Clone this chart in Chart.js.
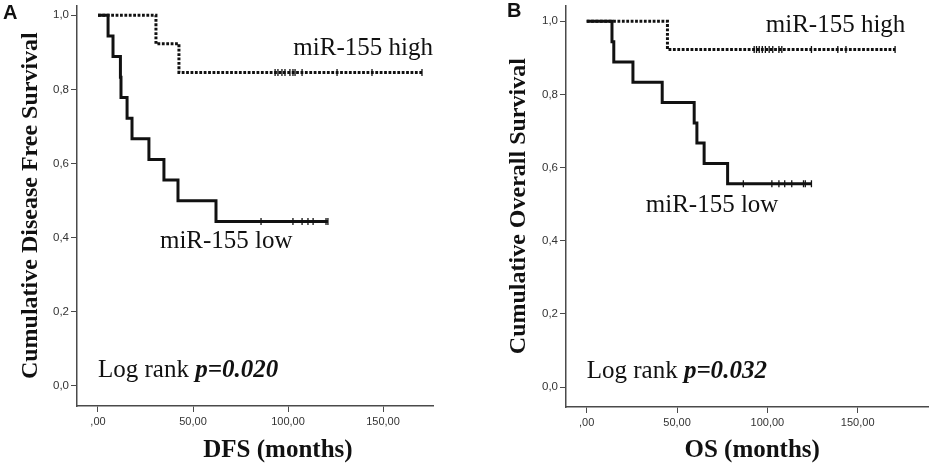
<!DOCTYPE html>
<html>
<head>
<meta charset="utf-8">
<script src="https://cdn.jsdelivr.net/npm/chart.js@4.4.1/dist/chart.umd.min.js"></script>
<style>
    html, body { margin: 0; padding: 0; background: #fff; }
    #wrap { position: relative; width: 934px; height: 466px; overflow: hidden; }
    .panel { position: absolute; top: 0; width: 467px; height: 466px; }
</style>
</head>
<body>
<div id="wrap">
    <div class="panel" style="left:0"><canvas id="dfsChart"></canvas></div>
    <div class="panel" style="left:467px"><canvas id="osChart"></canvas></div>
</div>
<script>
// axis ticks (SPSS style, comma decimals)
const xTickValues = [0, 50, 100, 150];
const xTickLabels = [',00', '50,00', '100,00', '150,00'];
const yTickValues = [0, 0.2, 0.4, 0.6, 0.8, 1.0];
const yTickLabels = ['0,0', '0,2', '0,4', '0,6', '0,8', '1,0'];

// panel A - disease free survival (months / cumulative survival)
const dfsHighTimes = [0, 30.5, 42.6];
const dfsHighSurv = [1, 0.923, 0.846];
const dfsHighCensored = [93.2, 94.7, 96.8, 98.4, 101, 102.6, 103.7, 107.4, 125.8, 144.2, 170.5];
const dfsLowTimes = [0, 5.3, 7.9, 11.8, 12.1, 15.3, 17.9, 26.8, 34.7, 42.1, 62.1];
const dfsLowSurv = [1, 0.944, 0.889, 0.833, 0.778, 0.722, 0.667, 0.611, 0.556, 0.5, 0.444];
const dfsLowCensored = [85.8, 102.6, 107.4, 110.5, 113.2, 120, 121];

// panel B - overall survival
const osHighTimes = [0, 44.7];
const osHighSurv = [1, 0.923];
const osHighCensored = [92.7, 94, 95.5, 97.2, 98.9, 101, 103, 106.4, 108, 124.4, 139, 143.5, 170.7];
const osLowTimes = [0, 14, 15, 25.6, 41.8, 59.5, 61, 65, 78];
const osLowSurv = [1, 0.944, 0.889, 0.833, 0.778, 0.722, 0.667, 0.611, 0.556];
const osLowCensored = [86.7, 102.5, 106.4, 109.6, 113.5, 120, 121, 124.4];

const INK = '#111';
const AXIS = '#4a4a4a';
const SERIF = '"Liberation Serif", "Times New Roman", serif';
const SANS = '"Liberation Sans", Arial, sans-serif';

function survAt(times, surv, t) {
    let s = surv[0];
    for (let i = 0; i < times.length; i++) {
        if (times[i] <= t) s = surv[i];
    }
    return s;
}

function curvePoints(times, surv, censored) {
    const pts = times.map((t, i) => ({ x: t, y: surv[i] }));
    const end = Math.max(...censored);
    pts.push({ x: end, y: surv[surv.length - 1] });
    return pts;
}

function censorPoints(times, surv, censored) {
    return censored.map(t => ({ x: t, y: survAt(times, surv, t) }));
}

function kmDatasets(high, low) {
    return [
        {
            data: curvePoints(low.times, low.surv, low.censored),
            stepped: true,
            borderColor: INK,
            borderWidth: 3,
            pointRadius: 0,
            order: 1
        },
        {
            data: curvePoints(high.times, high.surv, high.censored),
            stepped: true,
            borderColor: INK,
            borderWidth: 3,
            borderDash: [2.8, 1.6],
            borderCapStyle: 'butt',
            pointRadius: 0,
            order: 2
        },
        {
            data: censorPoints(low.times, low.surv, low.censored),
            showLine: false,
            pointStyle: 'line',
            rotation: 90,
            pointRadius: 3.5,
            pointBorderWidth: 1.3,
            pointBorderColor: INK,
            order: 0
        },
        {
            data: censorPoints(high.times, high.surv, high.censored),
            showLine: false,
            pointStyle: 'line',
            rotation: 90,
            pointRadius: 3.5,
            pointBorderWidth: 1.3,
            pointBorderColor: INK,
            order: 0
        }
    ];
}

// free text drawn at data coordinates (or pixels when px/py given)
const kmTextPlugin = {
    id: 'kmText',
    afterDraw(chart, args, opts) {
        const ctx = chart.ctx;
        const xs = chart.scales.x;
        const ys = chart.scales.y;
        ctx.save();
        ctx.fillStyle = INK;
        ctx.textBaseline = 'alphabetic';
        opts.items.forEach(item => {
            const x = item.px !== undefined ? item.px : xs.getPixelForValue(item.x);
            const y = item.py !== undefined ? item.py : ys.getPixelForValue(item.y);
            let total = 0;
            const widths = item.parts.map(p => {
                ctx.font = p.font;
                const w = ctx.measureText(p.text).width;
                total += w;
                return w;
            });
            let cx = item.align === 'center' ? x - total / 2 : x;
            item.parts.forEach((p, i) => {
                ctx.font = p.font;
                ctx.textAlign = 'left';
                ctx.fillText(p.text, cx, y);
                cx += widths[i];
            });
        });
        ctx.restore();
    }
};

function makeChart(id, cfg) {
    const ctx = document.getElementById(id).getContext('2d');
    return new Chart(ctx, {
        type: 'line',
        data: { datasets: kmDatasets(cfg.high, cfg.low) },
        options: {
            responsive: false,
            animation: false,
            devicePixelRatio: 1,
            layout: { padding: cfg.padding },
            plugins: {
                legend: { display: false },
                tooltip: { enabled: false },
                kmText: { items: cfg.texts }
            },
            scales: {
                x: {
                    type: 'linear',
                    min: cfg.xMin,
                    max: cfg.xMax,
                    afterBuildTicks: s => { s.ticks = xTickValues.map(v => ({ value: v })); },
                    afterFit: s => { s.height = cfg.xHeight; s.paddingLeft = 0; s.paddingRight = 0; },
                    grid: { drawOnChartArea: false, tickLength: 6, color: AXIS, lineWidth: 1 },
                    border: { display: true, color: AXIS, width: 1.5 },
                    ticks: {
                        autoSkip: false,
                        maxRotation: 0,
                        padding: 3,
                        color: '#333',
                        font: { family: SANS, size: 11 },
                        callback: v => xTickLabels[xTickValues.indexOf(v)]
                    }
                },
                y: {
                    type: 'linear',
                    min: cfg.yMin,
                    max: cfg.yMax,
                    afterBuildTicks: s => { s.ticks = yTickValues.map(v => ({ value: v })); },
                    afterFit: s => { s.width = cfg.yWidth; s.paddingTop = 0; s.paddingBottom = 0; },
                    grid: { drawOnChartArea: false, tickLength: 6, color: AXIS, lineWidth: 1 },
                    border: { display: true, color: AXIS, width: 1.5 },
                    ticks: {
                        padding: 2,
                        color: '#333',
                        font: { family: SANS, size: 11.5 },
                        callback: v => yTickLabels[yTickValues.findIndex(t => Math.abs(t - v) < 1e-6)]
                    },
                    title: {
                        display: true,
                        text: cfg.yTitle,
                        color: INK,
                        font: { family: SERIF, size: 24, weight: 'bold', lineHeight: 1 },
                        padding: { top: cfg.yTitlePad, bottom: 0 }
                    }
                }
            }
        },
        plugins: [kmTextPlugin]
    });
}

function label(text) {
    return [{ text: text, font: '25px ' + SERIF }];
}

document.getElementById('dfsChart').width = 467;
document.getElementById('dfsChart').height = 466;
document.getElementById('osChart').width = 467;
document.getElementById('osChart').height = 466;

makeChart('dfsChart', {
    high: { times: dfsHighTimes, surv: dfsHighSurv, censored: dfsHighCensored },
    low: { times: dfsLowTimes, surv: dfsLowSurv, censored: dfsLowCensored },
    padding: { left: 0, top: 5, right: 34, bottom: 0 },
    xMin: -11.05, xMax: 176.3, xHeight: 60,
    yMin: -0.054, yMax: 1.027, yWidth: 77,
    yTitle: 'Cumulative Disease Free Survival',
    yTitlePad: 19,
    texts: [
        { x: 102.8, y: 0.892, parts: label('miR-155 high') },
        { x: 32.6, y: 0.372, parts: label('miR-155 low') },
        { x: 0, y: 0.024, parts: [
            { text: 'Log rank ', font: '25px ' + SERIF },
            { text: 'p=0.020', font: 'italic bold 25px ' + SERIF }
        ] },
        { x: 94.7, py: 457, align: 'center', parts: [{ text: 'DFS (months)', font: 'bold 25px ' + SERIF }] },
        { px: 3, py: 19, parts: [{ text: 'A', font: 'bold 20px ' + SANS }] }
    ]
});

makeChart('osChart', {
    high: { times: osHighTimes, surv: osHighSurv, censored: osHighCensored },
    low: { times: osLowTimes, surv: osLowSurv, censored: osLowCensored },
    padding: { left: 0, top: 5, right: 0, bottom: 0 },
    xMin: -11.45, xMax: 189.3, xHeight: 59,
    yMin: -0.0546, yMax: 1.0437, yWidth: 99,
    yTitle: 'Cumulative Overall Survival',
    yTitlePad: 40,
    texts: [
        { x: 99.1, y: 0.97, parts: label('miR-155 high') },
        { x: 32.7, y: 0.478, parts: label('miR-155 low') },
        { x: 0, y: 0.0246, parts: [
            { text: 'Log rank ', font: '25px ' + SERIF },
            { text: 'p=0.032', font: 'italic bold 25px ' + SERIF }
        ] },
        { x: 91.6, py: 457, align: 'center', parts: [{ text: 'OS (months)', font: 'bold 25px ' + SERIF }] },
        { px: 40, py: 17, parts: [{ text: 'B', font: 'bold 20px ' + SANS }] }
    ]
});
</script>
</body>
</html>
